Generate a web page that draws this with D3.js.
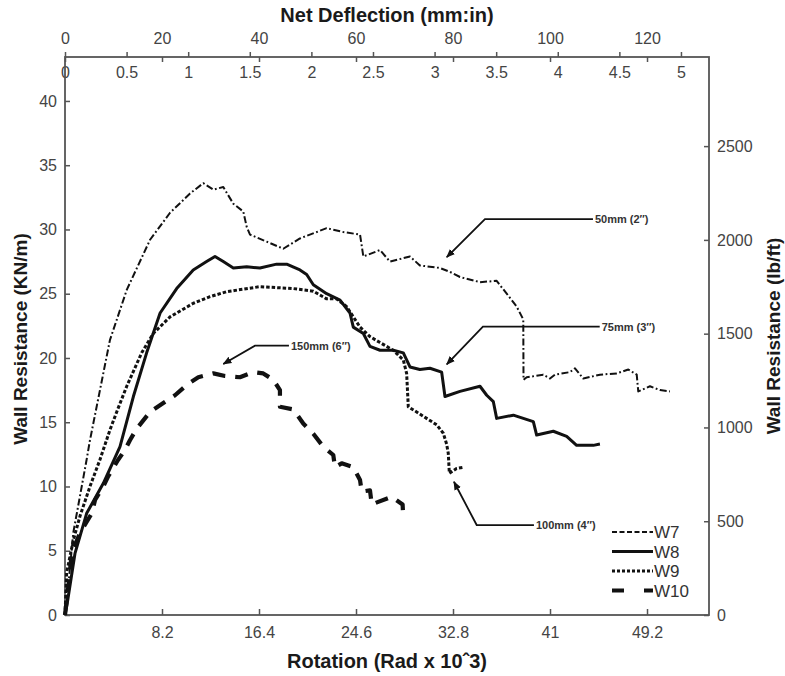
<!DOCTYPE html>
<html><head><meta charset="utf-8">
<script src="https://cdn.jsdelivr.net/npm/d3@7"></script>
<style>
body{margin:0;background:#fff;}
text{font-family:"Liberation Sans",Arial,Helvetica,sans-serif;}
</style></head>
<body><svg id="chart" width="785" height="676"></svg>
<script>
// ---- data (rotation in rad x 10^-3, wall resistance in kN/m) ----
const rotationTicks = [8.2, 16.4, 24.6, 32.8, 41, 49.2];
const mmTicks = [0, 20, 40, 60, 80, 100, 120];
const inchTicks = [0, 0.5, 1, 1.5, 2, 2.5, 3, 3.5, 4, 4.5, 5];
const kNTicks = [0, 5, 10, 15, 20, 25, 30, 35, 40];
const lbTicks = [0, 500, 1000, 1500, 2000, 2500];
const seriesNames = ["W7", "W8", "W9", "W10"];

const W7 = [[0,0],[0.14,0.9],[0.7,6.4],[1.83,12.1],[2.11,13.6],[3.8,21.4],[5.22,25.3],[7.19,29.2],[8.88,31.3],
 [10.57,32.8],[11.69,33.6],[12.54,33.1],[13.38,33.3],[14.23,32.0],[15.07,31.4],[15.36,30.2],[15.64,29.6],
 [17.05,29.05],[18.45,28.5],[19.86,29.3],[22.12,30.1],[23.53,29.8],[24.94,29.6],[25.22,27.9],[26.63,28.4],
 [27.47,27.5],[29.16,27.9],[30.0,27.2],[31.7,27.0],[32.54,26.7],[33.39,26.3],[35.08,25.9],[36.49,26.0],
 [37.34,25.0],[38.18,24.0],[38.74,23.0],[38.76,18.3],[39.03,18.5],[40.43,18.7],[41.0,18.4],[41.42,18.7],
 [42.69,18.9],[43.11,19.2],[43.81,18.4],[45.22,18.7],[46.64,18.8],[47.62,19.1],[48.33,18.7],[48.46,17.4],
 [49.45,17.8],[50.3,17.5],[51.14,17.4]];
const W8 = [[0,0],[0.19,0.91],[0.85,4.82],[1.83,7.91],[3.24,10.25],[4.65,13.1],[5.78,17.0],[6.9,20.4],
 [8.04,23.5],[9.44,25.4],[10.84,26.85],[11.97,27.5],[12.68,27.9],[13.38,27.5],[14.23,27.0],[15.36,27.1],
 [16.48,27.0],[17.89,27.3],[18.74,27.3],[19.86,26.85],[20.43,26.5],[20.99,25.7],[22.12,25.0],[23.25,24.5],
 [24.09,23.5],[24.37,22.4],[25.22,21.9],[25.78,20.9],[26.63,20.6],[27.75,20.6],[28.6,20.4],[29.16,19.3],
 [30.0,19.1],[30.85,19.2],[31.84,18.9],[32.12,17.0],[33.39,17.4],[35.08,17.8],[35.65,17.1],[36.21,16.6],
 [36.49,15.3],[37.9,15.55],[39.59,15.05],[39.87,14.0],[41.28,14.3],[42.41,13.9],[43.25,13.2],[44.66,13.2],
 [45.22,13.3]];
const W9 = [[0,0],[0.14,3.3],[0.7,5.8],[1.27,7.7],[2.11,10.0],[2.96,12.1],[3.8,14.4],[4.37,15.8],[5.22,17.8],
 [6.48,20.4],[7.46,21.9],[8.88,23.2],[10.85,24.26],[12.26,24.77],[13.67,25.16],[16.48,25.55],[19.3,25.4],
 [20.99,25.2],[22.12,24.6],[22.96,24.6],[23.81,24.0],[24.37,23.2],[24.94,22.4],[25.78,21.66],[26.63,21.2],
 [27.75,20.6],[28.6,19.84],[28.88,18.8],[29.02,16.2],[29.73,15.8],[30.57,15.3],[31.42,14.8],[31.98,14.14],
 [32.26,13.3],[32.4,12.58],[32.49,11.03],[33.1,11.4],[33.68,11.5]];
const W10 = [[0,0],[0.25,1.95],[0.57,4.8],[1.27,6.4],[2.26,7.9],[2.54,8.95],[3.24,10.0],[3.66,10.8],[4.48,12.06],
 [5.07,12.84],[5.49,13.6],[6.06,14.5],[7.19,15.8],[8.31,16.5],[9.3,17.1],[10.29,17.9],[11.27,18.5],[12.54,18.8],
 [13.52,18.6],[14.79,18.5],[15.92,18.9],[16.76,18.8],[17.61,18.3],[18.17,17.5],[18.17,16.2],[19.3,16.0],
 [20.14,14.9],[20.99,14.1],[21.83,13.1],[22.68,12.45],[22.82,11.5],[23.39,11.8],[24.37,11.5],[24.94,10.5],
 [25.08,9.6],[25.78,9.7],[25.93,8.6],[26.48,8.8],[27.61,9.2],[28.54,8.6],[28.6,7.5]];

// annotations: label, text start (rot, kN), elbow rotation, arrow tip (rot, kN)
const annLabels = ["50mm (2\u2033)", "75mm (3\u2033)", "150mm (6\u2033)", "100mm (4\u2033)"];
const annText = [[44.8, 30.8], [45.37, 22.44], [19.1, 20.96], [39.81, 7.0]];
const annElbow = [35.5, 35.33, 16.06, 34.8];
const annTip = [[32.27, 27.84], [32.27, 19.51], [13.38, 19.53], [32.88, 10.37]];

// ---- layout ----
const L = 65, R = 709, T = 57, B = 615;
const rotMax = 54.44, kNMax = 43.42;
const mmPerRot = 1 / 0.41, lbPerKN = 68.52;

const svg = d3.select("#chart");
const x = d3.scaleLinear().domain([0, rotMax]).range([L, R]);
const xmm = d3.scaleLinear().domain([0, rotMax * mmPerRot]).range([L, R]);
const xin = d3.scaleLinear().domain([0, rotMax * mmPerRot / 25.4]).range([L, R]);
const y = d3.scaleLinear().domain([0, kNMax]).range([B, T]);
const yR = d3.scaleLinear().domain([0, kNMax * lbPerKN]).range([B, T]);

const axisColor = "#555", labelColor = "#444";
function style(g) {
  g.select(".domain").remove();
  g.selectAll(".tick line").attr("stroke", axisColor).attr("stroke-width", 1.5);
  g.selectAll(".tick text").attr("fill", labelColor).attr("font-size", 16);
}
const plain = d => String(d);
svg.append("g").attr("transform", `translate(0,${B})`)
  .call(d3.axisBottom(x).tickValues(rotationTicks).tickSize(-6).tickPadding(12).tickFormat(plain)).call(style);
svg.append("g").attr("transform", `translate(0,${T})`)
  .call(d3.axisTop(xmm).tickValues(mmTicks).tickSize(-5).tickPadding(13).tickFormat(plain)).call(style);
svg.append("g").attr("transform", `translate(0,${T})`)
  .call(d3.axisBottom(xin).tickValues(inchTicks).tickSize(-5).tickPadding(10).tickFormat(plain)).call(style);
svg.append("g").attr("transform", `translate(${L},0)`)
  .call(d3.axisLeft(y).tickValues(kNTicks).tickSize(-5).tickPadding(8).tickFormat(plain)).call(style);
svg.append("g").attr("transform", `translate(${R},0)`)
  .call(d3.axisRight(yR).tickValues(lbTicks).tickSize(-5).tickPadding(8).tickFormat(plain)).call(style);

// frame
svg.append("rect").attr("x", L).attr("y", T).attr("width", R - L).attr("height", B - T)
  .attr("fill", "none").attr("stroke", axisColor).attr("stroke-width", 1.8);

// titles
const titleColor = "#1a1a1a";
svg.append("text").attr("x", (L + R) / 2).attr("y", 22).attr("text-anchor", "middle")
  .attr("font-size", 20).attr("font-weight", "bold").attr("fill", titleColor).text("Net Deflection (mm:in)");
svg.append("text").attr("x", (L + R) / 2).attr("y", 668).attr("text-anchor", "middle")
  .attr("font-size", 20).attr("font-weight", "bold").attr("fill", titleColor).text("Rotation (Rad x 10\u02C63)");
svg.append("text").attr("transform", `translate(27,${(T + B) / 2 + 3}) rotate(-90)`).attr("text-anchor", "middle")
  .attr("font-size", 19).attr("font-weight", "bold").attr("fill", titleColor).text("Wall Resistance (KN/m)");
svg.append("text").attr("transform", `translate(780,${(T + B) / 2}) rotate(-90)`).attr("text-anchor", "middle")
  .attr("font-size", 19).attr("font-weight", "bold").attr("fill", titleColor).text("Wall Resistance (lb/ft)");

// series
const styles = {
  W7: {w: 2, dash: "7,2.5,1.8,2.5"},
  W8: {w: 3, dash: null},
  W9: {w: 3, dash: "3.5,2"},
  W10: {w: 4.2, dash: "13,10"}
};
const seriesData = {W7, W8, W9, W10};
const line = d3.line().x(d => x(d[0])).y(d => y(d[1]));
seriesNames.forEach(n => {
  svg.append("path").datum(seriesData[n]).attr("d", line).attr("fill", "none")
    .attr("stroke", "#111").attr("stroke-width", styles[n].w)
    .attr("stroke-dasharray", styles[n].dash).attr("stroke-linejoin", "round");
});

// annotations
svg.append("defs").append("marker").attr("id", "arr").attr("viewBox", "0 0 10 10")
  .attr("refX", 9).attr("refY", 5).attr("markerWidth", 9).attr("markerHeight", 9)
  .attr("markerUnits", "userSpaceOnUse").attr("orient", "auto")
  .append("path").attr("d", "M0,1 L10,5 L0,9 Z").attr("fill", "#111");
annLabels.forEach((lab, i) => {
  const ty = y(annText[i][1]);
  svg.append("path")
    .attr("d", `M${x(annText[i][0]) - 2},${ty} L${x(annElbow[i])},${ty} L${x(annTip[i][0])},${y(annTip[i][1])}`)
    .attr("fill", "none").attr("stroke", "#111").attr("stroke-width", 1.8).attr("marker-end", "url(#arr)");
  svg.append("text").attr("x", x(annText[i][0])).attr("y", ty + 4).attr("font-size", 11)
    .attr("font-weight", "bold").attr("fill", "#333").text(lab);
});

// legend
const lg = svg.append("g").attr("transform", "translate(612,532)");
const legendDash = {W7: "5,2.5", W8: null, W9: "3,2", W10: "12,20"};
seriesNames.forEach((n, i) => {
  const yy = i * 19.5;
  lg.append("line").attr("x1", 0).attr("x2", 41).attr("y1", yy).attr("y2", yy)
    .attr("stroke", "#111").attr("stroke-width", styles[n].w).attr("stroke-dasharray", legendDash[n]);
  lg.append("text").attr("x", 42).attr("y", yy + 6).attr("font-size", 17).attr("fill", "#333").text(n);
});
</script></body></html>
